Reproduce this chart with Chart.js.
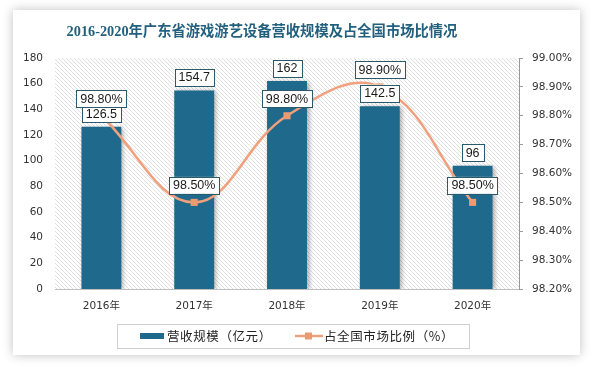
<!DOCTYPE html>
<html>
<head>
<meta charset="utf-8">
<script src="https://cdn.jsdelivr.net/npm/chart.js@4"></script>
<style>
  html, body { margin: 0; padding: 0; background: #fff; }
  canvas { display: block; }
</style>
</head>
<body>
<canvas id="chart" width="593" height="370"></canvas>
<script>
const years = ["2016年", "2017年", "2018年", "2019年", "2020年"];
const revenue = [126.5, 154.7, 162, 142.5, 96];
const share = [98.8, 98.5, 98.8, 98.9, 98.5];
const revenueLabel = "营收规模（亿元）";
const shareLabel = "占全国市场比例（%）";
const titleText = "2016-2020年广东省游戏游艺设备营收规模及占全国市场比情况";

const barColor = "#1F6A8C";
const lineColor = "#F0A07C";

// diagonal hatch for plot background
const hatch = (() => {
  const c = document.createElement("canvas");
  c.width = 4; c.height = 4;
  const g = c.getContext("2d");
  g.fillStyle = "#fff";
  g.fillRect(0, 0, 4, 4);
  g.strokeStyle = "#e0e0e0";
  g.lineWidth = 1;
  g.beginPath();
  g.moveTo(0, 0); g.lineTo(4, 4);
  g.moveTo(-1, 3); g.lineTo(1, 5);
  g.moveTo(3, -1); g.lineTo(5, 1);
  g.stroke();
  return g.createPattern(c, "repeat");
})();

const cardPlugin = {
  id: "card",
  beforeDraw(chart) {
    const { ctx, chartArea } = chart;
    ctx.save();
    ctx.fillStyle = "#fff";
    ctx.fillRect(0, 0, chart.width, chart.height);
    ctx.shadowColor = "rgba(0,0,0,0.25)";
    ctx.shadowBlur = 10;
    ctx.fillStyle = "#fff";
    ctx.fillRect(13, 10, 567, 345);
    ctx.restore();

    ctx.save();
    ctx.fillStyle = hatch;
    ctx.fillRect(chartArea.left, chartArea.top,
      chartArea.right - chartArea.left, chartArea.bottom - chartArea.top);
    ctx.restore();

    ctx.save();
    ctx.font = "bold 14.3px 'Liberation Serif', 'Noto Sans CJK SC'";
    ctx.fillStyle = "#22607E";
    ctx.textAlign = "center";
    ctx.textBaseline = "middle";
    ctx.fillText(titleText, 262, 32);
    ctx.restore();
  },
  beforeDatasetDraw(chart, args) {
    if (args.meta.type === "bar") {
      const ctx = chart.ctx;
      ctx.save();
      ctx.shadowColor = "rgba(0,0,0,0.35)";
      ctx.shadowBlur = 5;
      ctx.shadowOffsetX = 2;
      ctx.shadowOffsetY = 1;
    }
  },
  afterDatasetDraw(chart, args) {
    if (args.meta.type === "bar") chart.ctx.restore();
  },
  afterDatasetsDraw(chart) {
    const ctx = chart.ctx;
    const box = (text, x, cy) => {
      ctx.font = "12.5px 'Liberation Sans', 'Noto Sans'";
      const w = ctx.measureText(text).width + 8;
      const h = 17;
      ctx.fillStyle = "#fff";
      ctx.fillRect(x - w / 2, cy - h / 2, w, h);
      ctx.strokeStyle = "#2B5A6B";
      ctx.lineWidth = 1;
      ctx.strokeRect(Math.round(x - w / 2) + 0.5, Math.round(cy - h / 2) + 0.5, Math.round(w), h);
      ctx.fillStyle = "#1a1a1a";
      ctx.textAlign = "center";
      ctx.textBaseline = "middle";
      ctx.fillText(text, x, cy + 0.5);
    };
    ctx.save();
    chart.getDatasetMeta(0).data.forEach((el, i) => {
      box(String(revenue[i]), el.x, el.y - 13);
    });
    chart.getDatasetMeta(1).data.forEach((el, i) => {
      box(share[i].toFixed(2) + "%", el.x, el.y - 17);
    });

    // legend
    ctx.strokeStyle = "#d0d0d0";
    ctx.lineWidth = 1;
    ctx.strokeRect(117.5, 324.5, 352, 24);
    ctx.fillStyle = barColor;
    ctx.fillRect(140, 333, 24, 6);
    ctx.font = "12.5px 'Noto Sans CJK SC'";
    ctx.letterSpacing = "0.6px";
    ctx.fillStyle = "#222";
    ctx.textAlign = "left";
    ctx.textBaseline = "middle";
    ctx.fillText(revenueLabel, 167, 336);
    ctx.strokeStyle = lineColor;
    ctx.lineWidth = 2.5;
    ctx.beginPath();
    ctx.moveTo(295, 336); ctx.lineTo(323, 336);
    ctx.stroke();
    ctx.fillStyle = "#EE9A70";
    ctx.fillRect(305, 332.5, 7, 7);
    ctx.fillStyle = "#222";
    ctx.fillText(shareLabel, 324, 336);
    ctx.restore();
  }
};

Chart.defaults.font.family = "'DejaVu Sans', 'Noto Sans CJK SC'";
Chart.defaults.font.size = 10.5;
Chart.defaults.color = "#333";

new Chart(document.getElementById("chart"), {
  type: "bar",
  data: {
    labels: years,
    datasets: [
      {
        type: "bar",
        label: revenueLabel,
        data: revenue,
        backgroundColor: barColor,
        yAxisID: "y",
        order: 2,
        categoryPercentage: 1,
        barPercentage: 0.43
      },
      {
        type: "line",
        label: shareLabel,
        data: share,
        borderColor: lineColor,
        borderWidth: 2.5,
        backgroundColor: "#EE9A70",
        pointStyle: "rect",
        pointRadius: 5,
        pointBorderWidth: 0,
        tension: 0.4,
        yAxisID: "y1",
        order: 1
      }
    ]
  },
  options: {
    responsive: false,
    animation: false,
    layout: { padding: { top: 58, left: 0, right: 0, bottom: 51 } },
    plugins: {
      legend: { display: false },
      title: { display: false },
      tooltip: { enabled: false }
    },
    scales: {
      x: {
        grid: { display: false, drawTicks: false },
        border: { display: true, color: "#bfbfbf" },
        ticks: { padding: 11 },
        afterFit(scale) { scale.height = 30; }
      },
      y: {
        position: "left",
        min: 0,
        max: 180,
        ticks: { stepSize: 20, padding: 4 },
        grid: { display: false },
        border: { display: false },
        afterFit(scale) { scale.width = 55; }
      },
      y1: {
        position: "right",
        min: 98.2,
        max: 99.0,
        ticks: {
          stepSize: 0.1,
          padding: 9,
          callback: (v) => v.toFixed(2) + "%"
        },
        grid: { display: true, drawOnChartArea: false, tickLength: 4, color: "#999" },
        border: { display: true, color: "#999" },
        afterFit(scale) { scale.width = 74; }
      }
    }
  },
  plugins: [cardPlugin]
});
</script>
</body>
</html>
